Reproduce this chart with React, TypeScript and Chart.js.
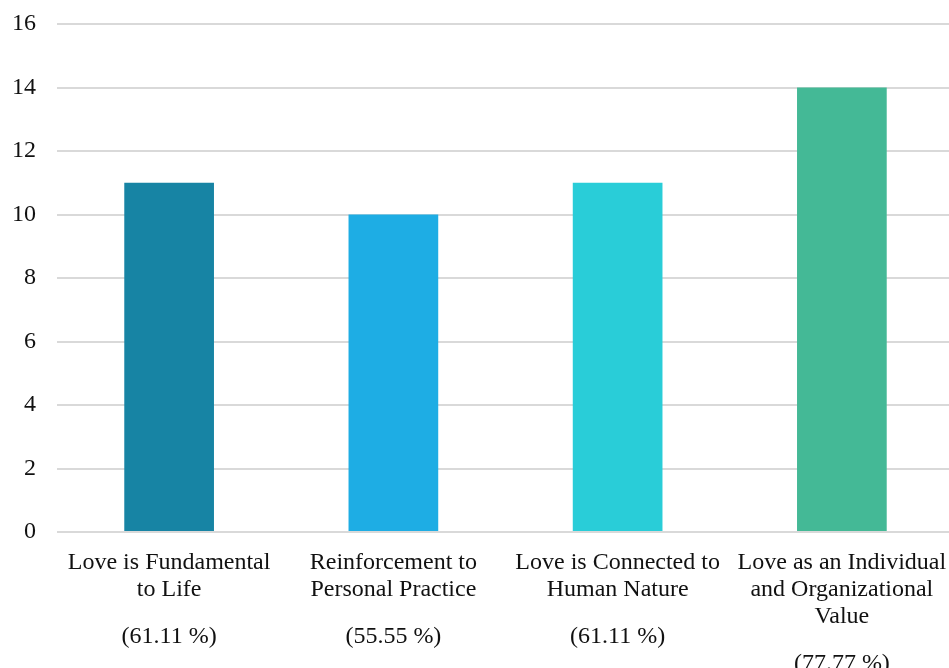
import React, { useEffect, useRef } from "react";
import { Chart, registerables } from "chart.js";

Chart.register(...registerables);

const categories: string[][] = [
  ["Love is Fundamental", "to Life"],
  ["Reinforcement to", "Personal Practice"],
  ["Love is Connected to", "Human Nature"],
  ["Love as an Individual", "and Organizational", "Value"],
];
const percentLabels: string[] = ["(61.11 %)", "(55.55 %)", "(61.11 %)", "(77.77 %)"];
const values: number[] = [11, 10, 11, 14];
const barColors: string[] = ["#1784a4", "#1eade4", "#29cdd8", "#44b996"];
const yTicks = { min: 0, max: 16, step: 2 };

const FONT = "'Liberation Serif', 'Times New Roman', serif";
const FONT_SIZE = 24;
const LINE_H = 27;
const TICK_PAD = 17;
const TEXT_COLOR = "#111111";

const percentPlugin = {
  id: "percentLabels",
  afterDraw(chart: any) {
    const x = chart.scales.x;
    const ctx = chart.ctx;
    ctx.save();
    ctx.font = `${FONT_SIZE}px ${FONT}`;
    ctx.fillStyle = TEXT_COLOR;
    ctx.textAlign = "center";
    ctx.textBaseline = "middle";
    percentLabels.forEach((p, i) => {
      const lines = categories[i].length;
      const cx = x.getPixelForValue(i);
      const lastCenter = chart.chartArea.bottom + TICK_PAD + LINE_H / 2 + (lines - 1) * LINE_H;
      ctx.fillText(p, cx, lastCenter + 47);
    });
    ctx.restore();
  },
};

export default function App() {
  const ref = useRef<HTMLCanvasElement | null>(null);
  useEffect(() => {
    document.body.style.margin = "0";
    if (!ref.current) return;
    const chart = new Chart(ref.current, {
      type: "bar",
      data: {
        labels: categories,
        datasets: [
          {
            data: values,
            backgroundColor: barColors,
            borderWidth: 0,
            categoryPercentage: 1,
            barPercentage: 0.4,
          },
        ],
      },
      options: {
        animation: false,
        responsive: true,
        maintainAspectRatio: false,
        layout: { padding: { top: 24, left: 0, right: 0, bottom: 0 } },
        plugins: { legend: { display: false }, tooltip: { enabled: false } },
        scales: {
          x: {
            grid: { display: false, drawTicks: false },
            border: { display: false },
            ticks: {
              color: TEXT_COLOR,
              padding: TICK_PAD,
              maxRotation: 0,
              autoSkip: false,
              font: { family: FONT, size: FONT_SIZE, lineHeight: `${LINE_H}px` as any },
            },
            afterFit(scale: any) {
              scale.height = 136;
              scale.paddingLeft = 0;
              scale.paddingRight = 0;
            },
          },
          y: {
            min: yTicks.min,
            max: yTicks.max,
            grid: { color: "#d9d9d9", lineWidth: 2, drawTicks: false },
            border: { display: false },
            ticks: {
              stepSize: yTicks.step,
              color: TEXT_COLOR,
              padding: 21,
              font: { family: FONT, size: FONT_SIZE },
            },
            afterFit(scale: any) {
              scale.width = 57;
              scale.paddingTop = 0;
              scale.paddingBottom = 0;
            },
          },
        },
      },
      plugins: [percentPlugin],
    });
    return () => chart.destroy();
  }, []);

  return (
    <div style={{ position: "fixed", left: 0, top: 0, width: 949, height: 668, overflow: "hidden", background: "#fff" }}>
      <div style={{ position: "relative", width: 954, height: 668 }}>
        <canvas ref={ref} />
      </div>
    </div>
  );
}
